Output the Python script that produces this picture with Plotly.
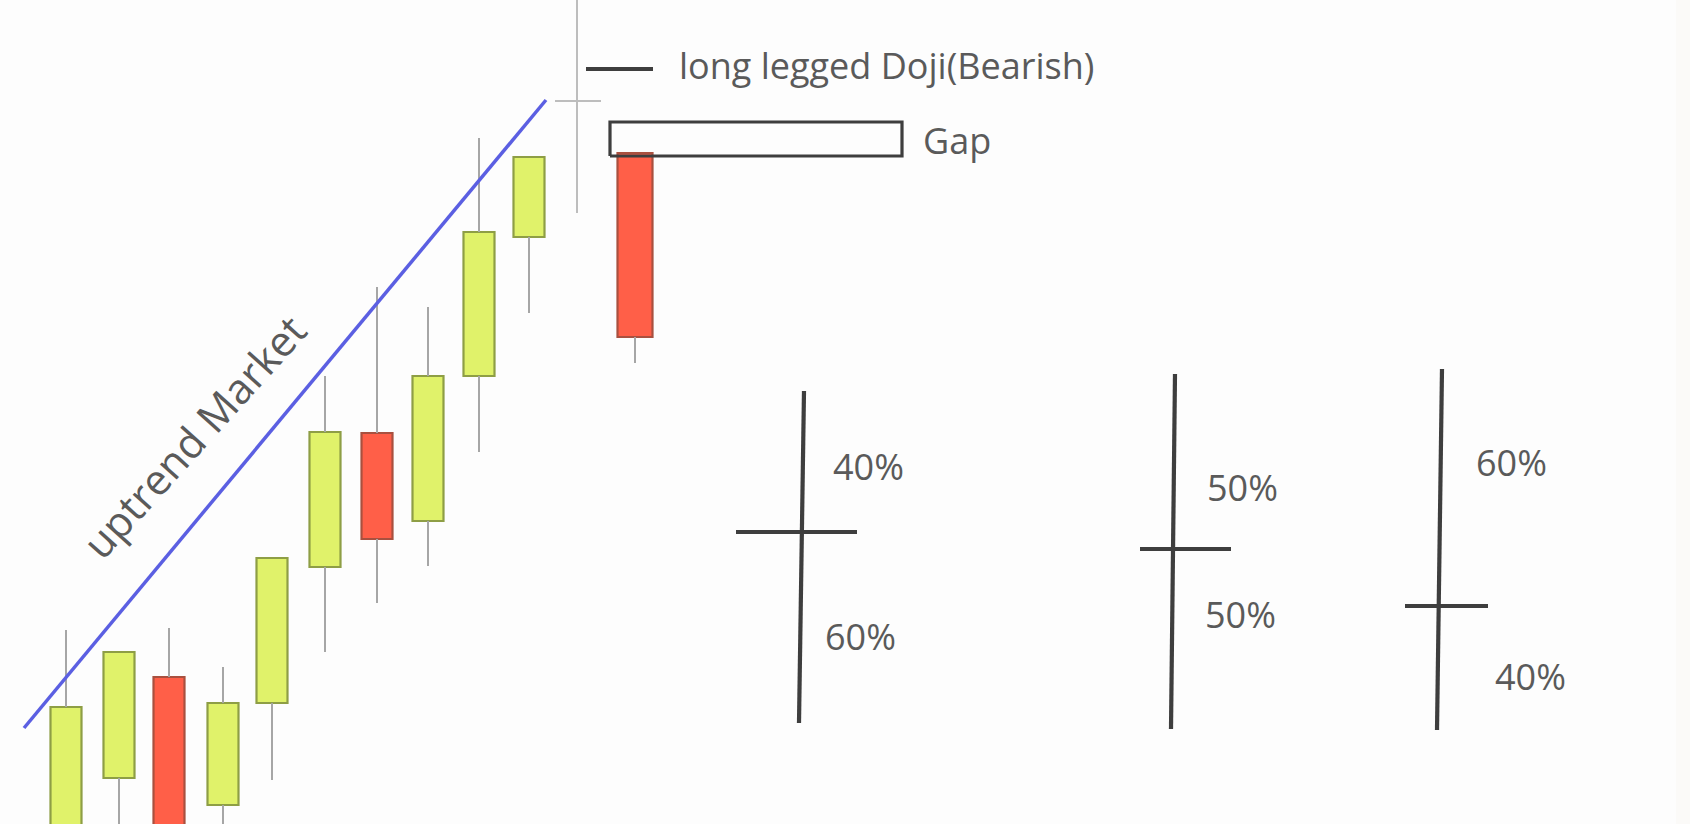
import plotly.graph_objects as go

# ---------------- data (price units; chart is an illustration) ----------------
candle_x     = [66, 119, 169, 223, 272, 325, 377, 428, 479, 529, 635]
candle_open  = [-26, 46, 147, 19, 121, 257, 391, 303, 448, 587, 671]
candle_close = [117, 172, -30, 121, 266, 392, 285, 448, 592, 667, 487]
candle_high  = [194, 172, 196, 157, 266, 448, 537, 517, 686, 667, 671]
candle_low   = [-60, -40, -60, -30, 44, 172, 221, 258, 372, 511, 461]

# long legged doji (bearish) candle
doji_x = 577
doji_high = 824
doji_low = 611
doji_price = 723
doji_cross = [555, 601]

# uptrend line
trend_x = [24, 546]
trend_y = [96, 724]

# gap box (x0, x1, y0, y1)
gap_box = [610, 902, 668, 702]

# legend-like marker for the doji label
marker_x = [586, 653]
marker_y = [755, 755]

# right-hand illustrations of long legged dojis
ill_top_x = [804, 1175, 1442]
ill_bottom_x = [799, 1171, 1437]
ill_high = [433, 450, 455]
ill_low = [101, 95, 94]
ill_cross = [292, 275, 218]
ill_cross_left = [736, 1140, 1405]
ill_cross_right = [857, 1231, 1488]

upper_labels = ["40%", "50%", "60%"]
upper_label_x = [868, 1242, 1511]
upper_label_y = [358, 337, 362]
lower_labels = ["60%", "50%", "40%"]
lower_label_x = [860, 1240, 1530]
lower_label_y = [188, 210, 148]

# ---------------- styling ----------------
GREEN_FILL = "#e0f26a"
GREEN_LINE = "#8e9e45"
RED_FILL = "#ff5f48"
RED_LINE = "#a9503f"
WICK = "#a6a6a6"
DARK = "#3e3e3e"
TEXT = "#5a5a5a"
FONT = "Open Sans, Noto Sans, sans-serif"

fig = go.Figure()

# wicks (split so they don't cross the bodies)
wx, wy = [], []
for x, o, c, h, l in zip(candle_x, candle_open, candle_close, candle_high, candle_low):
    top, bot = max(o, c), min(o, c)
    if h > top:
        wx += [x, x, None]; wy += [top, h, None]
    if l < bot:
        wx += [x, x, None]; wy += [l, bot, None]
fig.add_trace(go.Scatter(x=wx, y=wy, mode="lines",
                         line=dict(color=WICK, width=2), hoverinfo="skip"))

# bodies
is_up = [c >= o for o, c in zip(candle_open, candle_close)]
widths = [31] * (len(candle_x) - 1) + [35]
fig.add_trace(go.Bar(
    x=candle_x,
    y=[abs(c - o) for o, c in zip(candle_open, candle_close)],
    base=[min(o, c) for o, c in zip(candle_open, candle_close)],
    width=widths,
    marker=dict(color=[GREEN_FILL if u else RED_FILL for u in is_up],
                line=dict(color=[GREEN_LINE if u else RED_LINE for u in is_up], width=2.2)),
    hoverinfo="skip",
))

# long legged doji (grey)
fig.add_trace(go.Scatter(
    x=[doji_x, doji_x, None, doji_cross[0], doji_cross[1]],
    y=[doji_low, doji_high, None, doji_price, doji_price],
    mode="lines", line=dict(color="#bdbdbd", width=2), hoverinfo="skip"))

# uptrend line
fig.add_trace(go.Scatter(x=trend_x, y=trend_y, mode="lines",
                         line=dict(color="#5b5fe2", width=3.5), hoverinfo="skip"))

# marker line for the label
fig.add_trace(go.Scatter(x=marker_x, y=marker_y, mode="lines",
                         line=dict(color=DARK, width=4), hoverinfo="skip"))

# gap box
fig.add_trace(go.Scatter(
    x=[gap_box[0], gap_box[1], gap_box[1], gap_box[0], gap_box[0]],
    y=[gap_box[2], gap_box[2], gap_box[3], gap_box[3], gap_box[2]],
    mode="lines", line=dict(color=DARK, width=3.2), hoverinfo="skip"))

# right-hand doji illustrations
ix, iy = [], []
for tx, bx, hi, lo, cy, cl, cr in zip(ill_top_x, ill_bottom_x, ill_high, ill_low,
                                      ill_cross, ill_cross_left, ill_cross_right):
    ix += [tx, bx, None, cl, cr, None]
    iy += [hi, lo, None, cy, cy, None]
fig.add_trace(go.Scatter(x=ix, y=iy, mode="lines",
                         line=dict(color=DARK, width=4.2), hoverinfo="skip"))

# ---------------- text ----------------
annotations = [
    dict(x=677, y=759, text="long legged Doji(Bearish)", xanchor="left", yanchor="middle",
         font=dict(size=36, color=TEXT, family=FONT)),
    dict(x=921, y=684, text="Gap", xanchor="left", yanchor="middle",
         font=dict(size=36, color=TEXT, family=FONT)),
    dict(x=193, y=388, text="uptrend Market", textangle=-48, xanchor="center", yanchor="middle",
         font=dict(size=42, color=TEXT, family=FONT)),
]
for t, x, y in zip(upper_labels, upper_label_x, upper_label_y):
    annotations.append(dict(x=x, y=y, text=t, xanchor="center", yanchor="middle",
                            font=dict(size=36, color=TEXT, family=FONT)))
for t, x, y in zip(lower_labels, lower_label_x, lower_label_y):
    annotations.append(dict(x=x, y=y, text=t, xanchor="center", yanchor="middle",
                            font=dict(size=36, color=TEXT, family=FONT)))
for a in annotations:
    a.update(xref="x", yref="y", showarrow=False)

fig.update_layout(
    width=1690, height=824,
    margin=dict(l=0, r=0, t=0, b=0),
    paper_bgcolor="#fdfdfd", plot_bgcolor="#fdfdfd",
    showlegend=False,
    annotations=annotations,
    xaxis=dict(range=[0, 1690], visible=False, fixedrange=True),
    yaxis=dict(range=[0, 824], visible=False, fixedrange=True),
    shapes=[dict(type="rect", xref="paper", yref="paper", x0=1676 / 1690, x1=1, y0=0, y1=1,
                 fillcolor="#fbfaf8", line=dict(width=0), layer="below")],
)

fig.write_html("out.html", config={"displayModeBar": False})
